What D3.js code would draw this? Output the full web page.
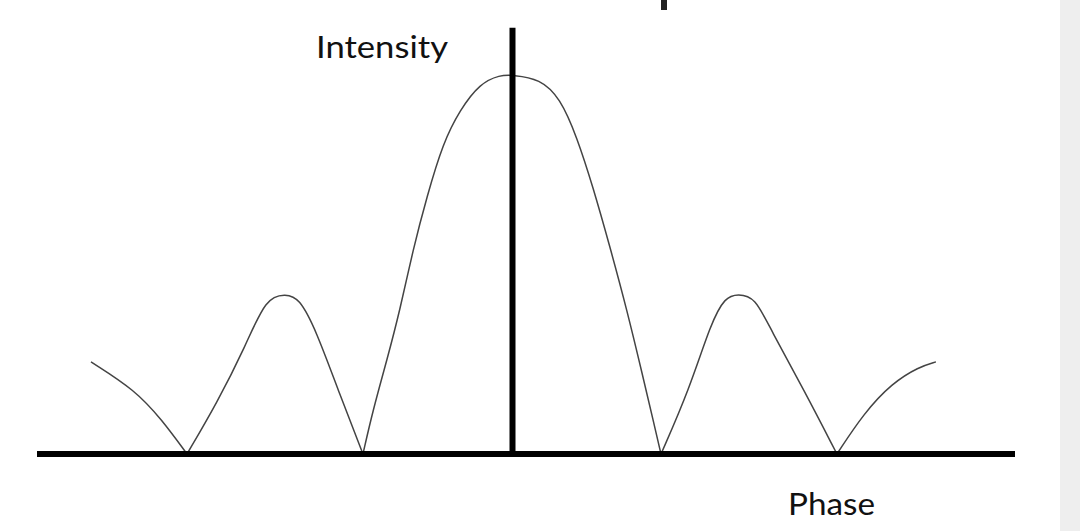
<!DOCTYPE html>
<html>
<head>
<meta charset="utf-8">
<script src="https://cdn.jsdelivr.net/npm/d3@7"></script>
<style>
  html, body { margin: 0; padding: 0; background: #fff; }
  svg { display: block; }
</style>
</head>
<body>
<svg id="chart" width="1080" height="531"></svg>
<script>
// Phase values (arbitrary units, 0 at the central peak) and relative intensity,
// read from the hand-drawn reference. Zero-intensity points are the cusps (minima).
const phase = [
  -2.81, -2.517, -2.337, -2.17,
  -1.97, -1.783, -1.643, -1.51, -1.423, -1.31, -1.163, -0.997,
  -0.93, -0.837, -0.75, -0.663, -0.57, -0.463, -0.35, -0.217, -0.083, 0,
  0.183, 0.317, 0.43, 0.537, 0.65, 0.763, 0.87, 0.937, 0.99,
  1.177, 1.323, 1.417, 1.503, 1.617, 1.723, 1.943, 2.163,
  2.343, 2.53, 2.71, 2.823
];
const intensity = [
  0.243, 0.169, 0.090, 0,
  0.135, 0.282, 0.414, 0.422, 0.412, 0.327, 0.169, 0,
  0.116, 0.248, 0.380, 0.540, 0.680, 0.821, 0.908, 0.978, 1.0, 1.0,
  0.990, 0.940, 0.836, 0.704, 0.546, 0.380, 0.203, 0.090, 0,
  0.169, 0.346, 0.414, 0.422, 0.414, 0.327, 0.169, 0,
  0.108, 0.187, 0.230, 0.243
];
const axisLabels = ["Intensity", "Phase"];
const phaseExtent = [-3.17, 3.35];
const intensityAxisTop = 1.125;

const svg = d3.select("#chart");
const W = 1080, H = 531;

svg.append("rect").attr("width", W).attr("height", H).attr("fill", "#ffffff");
svg.append("rect").attr("x", 1060).attr("y", 0).attr("width", 20).attr("height", H).attr("fill", "#eeeeee");

// cut-off glyph fragment at the top edge
svg.append("rect").attr("x", 661).attr("y", 0).attr("width", 6).attr("height", 10).attr("fill", "#222");

const x = d3.scaleLinear().domain(phaseExtent).range([37, 1015]);
const y = d3.scaleLinear().domain([0, 1]).range([454, 75]);

// split into lobes at the zero points (cusps)
const pts = phase.map((p, i) => ({p, v: intensity[i]}));
const segments = [];
let cur = [];
pts.forEach(d => {
  cur.push(d);
  if (d.v === 0 && cur.length > 1) {
    segments.push(cur);
    cur = [d];
  }
});
if (cur.length > 1) segments.push(cur);

const line = d3.line()
  .x(d => x(d.p))
  .y(d => y(d.v))
  .curve(d3.curveBasis);

svg.append("g").selectAll("path")
  .data(segments)
  .join("path")
  .attr("d", line)
  .attr("fill", "none")
  .attr("stroke", "#444")
  .attr("stroke-width", 1.5)
  .attr("stroke-linejoin", "round");

// axes
svg.append("line")
  .attr("x1", x(phaseExtent[0])).attr("x2", x(phaseExtent[1]))
  .attr("y1", y(0)).attr("y2", y(0))
  .attr("stroke", "#000").attr("stroke-width", 6);
svg.append("line")
  .attr("x1", x(0)).attr("x2", x(0))
  .attr("y1", y(0)).attr("y2", y(intensityAxisTop))
  .attr("stroke", "#000").attr("stroke-width", 6);

// labels
const font = "Lato, 'Open Sans', sans-serif";
svg.append("text")
  .attr("x", 316).attr("y", 58)
  .attr("font-family", font).attr("font-size", 31)
  .attr("fill", "#111")
  .attr("textLength", 132).attr("lengthAdjust", "spacingAndGlyphs")
  .text(axisLabels[0]);
svg.append("text")
  .attr("x", 788).attr("y", 515)
  .attr("font-family", font).attr("font-size", 31)
  .attr("fill", "#111")
  .attr("textLength", 87).attr("lengthAdjust", "spacingAndGlyphs")
  .text(axisLabels[1]);
</script>
</body>
</html>
